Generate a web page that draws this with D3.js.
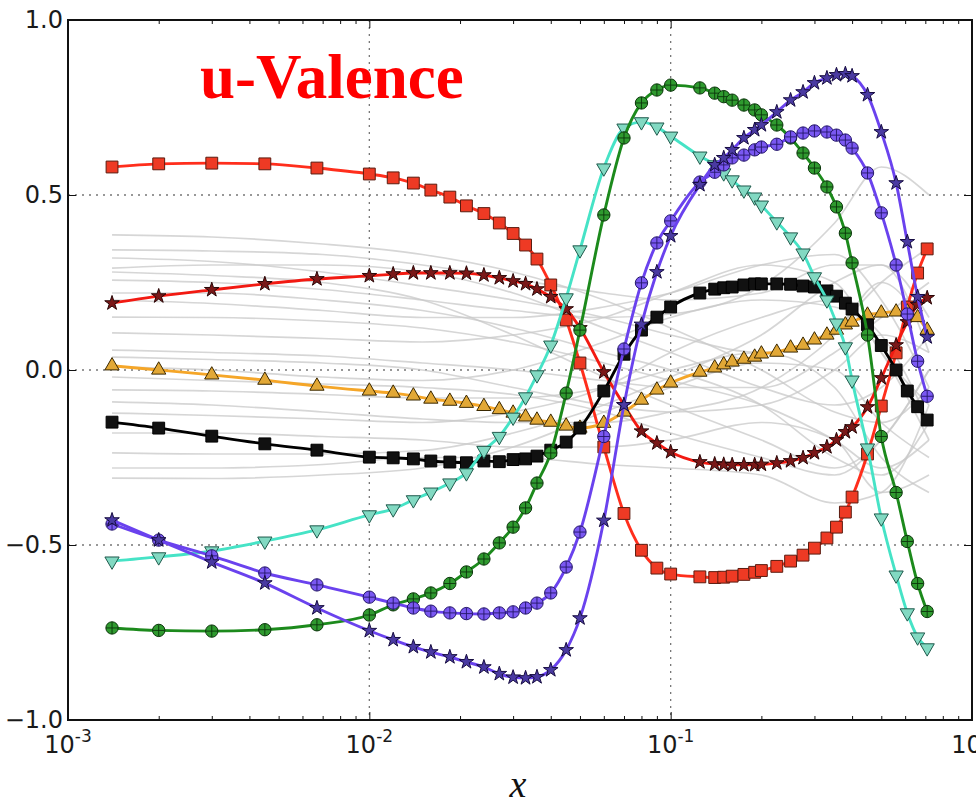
<!DOCTYPE html>
<html>
<head>
<meta charset="utf-8">
<script src="https://cdnjs.cloudflare.com/ajax/libs/d3/7.8.5/d3.min.js"></script>
<style>
body { margin: 0; background: #fff; }
svg { display: block; }
</style>
</head>
<body>
<svg id="chart"></svg>
<script>
// x grid of the plotted points (shared by all highlighted curves)
var xs = [0.0014, 0.002, 0.003, 0.0045, 0.0067, 0.01, 0.012, 0.014, 0.016, 0.0185,
    0.021, 0.024, 0.027, 0.03, 0.033, 0.036, 0.04, 0.045, 0.05, 0.06,
    0.07, 0.08, 0.09, 0.1, 0.125, 0.14, 0.15, 0.16, 0.175, 0.19,
    0.2, 0.225, 0.25, 0.275, 0.3, 0.33, 0.355, 0.38, 0.4, 0.45,
    0.5, 0.56, 0.61, 0.66, 0.71];

var redSquares = [0.580, 0.589, 0.591, 0.589, 0.577, 0.560, 0.549, 0.534, 0.514, 0.494,
    0.469, 0.447, 0.420, 0.390, 0.357, 0.317, 0.243, 0.143, 0.020, -0.220,
    -0.410, -0.515, -0.566, -0.583, -0.591, -0.593, -0.592, -0.589, -0.584, -0.578,
    -0.573, -0.561, -0.546, -0.529, -0.509, -0.480, -0.449, -0.406, -0.363, -0.240,
    -0.103, 0.049, 0.180, 0.277, 0.346];

var redStars = [0.191, 0.211, 0.229, 0.246, 0.260, 0.269, 0.274, 0.277, 0.277, 0.277,
    0.276, 0.271, 0.263, 0.254, 0.246, 0.231, 0.209, 0.174, 0.120, -0.006,
    -0.100, -0.175, -0.209, -0.234, -0.263, -0.269, -0.270, -0.271, -0.271, -0.271,
    -0.270, -0.266, -0.260, -0.251, -0.237, -0.220, -0.200, -0.177, -0.163, -0.106,
    -0.023, 0.071, 0.137, 0.186, 0.206];

var orangeTri = [0.012, 0.000, -0.014, -0.029, -0.046, -0.060, -0.066, -0.074, -0.083, -0.089,
    -0.095, -0.104, -0.113, -0.123, -0.134, -0.143, -0.149, -0.160, -0.166, -0.152,
    -0.120, -0.086, -0.057, -0.037, -0.006, 0.006, 0.015, 0.023, 0.031, 0.037,
    0.046, 0.051, 0.063, 0.071, 0.086, 0.100, 0.114, 0.129, 0.137, 0.157,
    0.163, 0.166, 0.166, 0.150, 0.114];

var blackSquares = [-0.149, -0.166, -0.189, -0.211, -0.229, -0.249, -0.251, -0.254, -0.260, -0.263,
    -0.265, -0.260, -0.262, -0.256, -0.254, -0.246, -0.229, -0.206, -0.166, -0.060,
    0.045, 0.114, 0.151, 0.180, 0.220, 0.231, 0.235, 0.237, 0.243, 0.246,
    0.246, 0.246, 0.245, 0.240, 0.237, 0.226, 0.211, 0.191, 0.174, 0.129,
    0.070, 0.000, -0.060, -0.105, -0.143];

var tealTri = [-0.546, -0.534, -0.517, -0.489, -0.457, -0.414, -0.397, -0.371, -0.349, -0.323,
    -0.294, -0.230, -0.190, -0.135, -0.077, -0.014, 0.071, 0.206, 0.343, 0.577,
    0.691, 0.709, 0.694, 0.668, 0.611, 0.586, 0.563, 0.543, 0.514, 0.494,
    0.471, 0.423, 0.380, 0.334, 0.266, 0.200, 0.134, 0.066, -0.029, -0.223,
    -0.423, -0.586, -0.694, -0.763, -0.794];

var greenCircles = [-0.737, -0.744, -0.746, -0.742, -0.728, -0.700, -0.671, -0.654, -0.637, -0.610,
    -0.577, -0.540, -0.494, -0.449, -0.394, -0.323, -0.237, -0.066, 0.114, 0.443,
    0.663, 0.763, 0.800, 0.814, 0.806, 0.791, 0.781, 0.771, 0.757, 0.743,
    0.729, 0.700, 0.663, 0.620, 0.577, 0.523, 0.466, 0.391, 0.306, 0.100,
    -0.190, -0.350, -0.490, -0.610, -0.690];

var violetCircles = [-0.440, -0.486, -0.531, -0.580, -0.614, -0.649, -0.666, -0.680, -0.689, -0.694,
    -0.696, -0.697, -0.694, -0.691, -0.680, -0.666, -0.637, -0.563, -0.463, -0.190,
    0.060, 0.249, 0.363, 0.426, 0.537, 0.565, 0.586, 0.606, 0.614, 0.629,
    0.637, 0.645, 0.666, 0.677, 0.683, 0.680, 0.671, 0.657, 0.634, 0.563,
    0.449, 0.300, 0.160, 0.025, -0.075];

var violetStars = [-0.429, -0.486, -0.549, -0.609, -0.680, -0.745, -0.771, -0.791, -0.806, -0.820,
    -0.834, -0.849, -0.868, -0.878, -0.880, -0.877, -0.857, -0.800, -0.709, -0.430,
    -0.100, 0.130, 0.280, 0.383, 0.529, 0.586, 0.606, 0.629, 0.663, 0.686,
    0.700, 0.737, 0.771, 0.794, 0.820, 0.834, 0.843, 0.846, 0.840, 0.786,
    0.680, 0.534, 0.366, 0.209, 0.094];

// faint grey replicas, values at a few x knots
var greyX = [0.0014, 0.003, 0.007, 0.015, 0.03, 0.06, 0.1, 0.2, 0.35, 0.5, 0.72];
var greyRuns = [
    [0.386, 0.380, 0.360, 0.330, 0.280, 0.200, 0.120, 0.000, -0.120, -0.150, -0.050],
    [0.343, 0.340, 0.330, 0.300, 0.260, 0.220, 0.200, 0.220, 0.300, 0.300, 0.150],
    [0.291, 0.300, 0.300, 0.280, 0.220, 0.120, 0.050, -0.050, -0.100, -0.050, 0.100],
    [0.257, 0.250, 0.230, 0.200, 0.170, 0.150, 0.160, 0.240, 0.420, 0.580, 0.500],
    [0.200, 0.190, 0.170, 0.150, 0.150, 0.180, 0.220, 0.300, 0.330, 0.200, -0.050],
    [0.151, 0.150, 0.140, 0.120, 0.080, 0.020, -0.030, -0.100, -0.200, -0.280, -0.200],
    [0.106, 0.100, 0.090, 0.080, 0.100, 0.150, 0.220, 0.300, 0.250, 0.050, -0.100],
    [0.057, 0.050, 0.040, 0.020, 0.000, -0.030, -0.050, -0.050, 0.050, 0.150, 0.250],
    [0.037, 0.030, 0.020, 0.000, -0.050, -0.100, -0.120, -0.100, 0.000, 0.100, 0.050],
    [0.009, 0.000, -0.020, -0.030, 0.000, 0.080, 0.150, 0.200, 0.180, 0.100, -0.150],
    [-0.057, -0.060, -0.070, -0.080, -0.080, -0.050, 0.000, 0.050, -0.050, -0.250, -0.350],
    [-0.091, -0.100, -0.120, -0.140, -0.150, -0.150, -0.120, -0.050, 0.100, 0.250, 0.100],
    [-0.123, -0.130, -0.140, -0.150, -0.120, -0.050, 0.050, 0.150, 0.200, 0.050, -0.200],
    [-0.180, -0.180, -0.190, -0.200, -0.220, -0.220, -0.200, -0.150, -0.200, -0.350, -0.300],
    [-0.237, -0.240, -0.240, -0.230, -0.180, -0.100, -0.020, 0.100, 0.250, 0.300, 0.050],
    [-0.280, -0.280, -0.270, -0.250, -0.250, -0.270, -0.280, -0.300, -0.380, -0.350, -0.100],
    [-0.309, -0.310, -0.300, -0.280, -0.220, -0.120, -0.050, 0.020, 0.000, -0.150, -0.250],
    [0.320, 0.310, 0.280, 0.240, 0.200, 0.150, 0.100, 0.050, 0.120, 0.250, 0.350],
    [0.220, 0.220, 0.200, 0.170, 0.120, 0.050, 0.000, -0.100, -0.250, -0.300, -0.150],
    [-0.020, -0.030, -0.040, -0.050, -0.070, -0.120, -0.180, -0.250, -0.300, -0.200, 0.000],
    [0.280, 0.270, 0.250, 0.200, 0.100, -0.020, -0.100, -0.200, -0.280, -0.200, 0.000]
];

// axis ticks
var xMajor = [0.001, 0.01, 0.1, 1];
var xExp = ['-3', '-2', '-1', '0'];
var yMajor = [-1, -0.5, 0, 0.5, 1];
var xGrid = [0.01, 0.1];
var yGrid = [-0.5, 0, 0.5];

var W = 976, H = 806;
var pL = 68, pR = 972, pT = 20, pB = 720;

var svg = d3.select('#chart').attr('width', W).attr('height', H);

var xScale = d3.scaleLog().domain([1e-3, 1]).range([pL, pR]);
var yScale = d3.scaleLinear().domain([-1, 1]).range([pB, pT]);

svg.append('clipPath').attr('id', 'plotclip')
    .append('rect').attr('x', pL).attr('y', pT)
    .attr('width', pR - pL).attr('height', pB - pT);

// dotted grid
svg.selectAll('line.gx').data(xGrid).join('line').attr('class', 'gx')
    .attr('x1', d => xScale(d)).attr('x2', d => xScale(d))
    .attr('y1', pT).attr('y2', pB)
    .attr('stroke', '#777').attr('stroke-width', 1.3).attr('stroke-dasharray', '2,5');
svg.selectAll('line.gy').data(yGrid).join('line').attr('class', 'gy')
    .attr('x1', pL).attr('x2', pR)
    .attr('y1', d => yScale(d)).attr('y2', d => yScale(d))
    .attr('stroke', '#777').attr('stroke-width', 1.3).attr('stroke-dasharray', '2,5');

var plot = svg.append('g').attr('clip-path', 'url(#plotclip)');

var curveLine = d3.line()
    .x(d => xScale(d[0])).y(d => yScale(d[1]))
    .curve(d3.curveMonotoneX);

// grey replicas
plot.selectAll('path.grey').data(greyRuns).join('path').attr('class', 'grey')
    .attr('d', r => curveLine(r.map((v, i) => [greyX[i], v])))
    .attr('fill', 'none').attr('stroke', '#c8c8c8').attr('stroke-width', 1.7)
    .attr('stroke-opacity', 0.75);

// highlighted curves
var series = [
    { y: redSquares, line: '#ff2e1c', fill: '#ee3a24', edge: '#5a1c10', shape: 'square' },
    { y: redStars, line: '#f21a12', fill: '#7a1818', edge: '#2a0606', shape: 'star' },
    { y: orangeTri, line: '#f5a628', fill: '#e2a836', edge: '#3a2800', shape: 'up' },
    { y: blackSquares, line: '#000000', fill: '#111111', edge: '#000000', shape: 'square' },
    { y: tealTri, line: '#46e3c6', fill: '#82d9c2', edge: '#1f5a4c', shape: 'down' },
    { y: greenCircles, line: '#1c8a1c', fill: '#2f9a2f', edge: '#0b360b', shape: 'circle' },
    { y: violetCircles, line: '#6a42ee', fill: '#7a58f2', edge: '#24166a', shape: 'circle' },
    { y: violetStars, line: '#6a42ee', fill: '#4a3aa2', edge: '#160c40', shape: 'star' }
];

var symbols = {
    square: d3.symbol().type(d3.symbolSquare).size(140)(),
    star: d3.symbol().type(d3.symbolStar).size(66)(),
    up: d3.symbol().type(d3.symbolTriangle).size(88)(),
    down: d3.symbol().type(d3.symbolTriangle).size(88)(),
    circle: d3.symbol().type(d3.symbolCircle).size(120)()
};

series.forEach(function(s) {
    var pts = xs.map((x, i) => [x, s.y[i]]);
    var g = plot.append('g');
    g.append('path').attr('d', curveLine(pts))
        .attr('fill', 'none').attr('stroke', s.line).attr('stroke-width', 2.9);
    var m = g.selectAll('g.m').data(pts).join('g').attr('class', 'm')
        .attr('transform', d => 'translate(' + xScale(d[0]) + ',' + yScale(d[1]) + ')' + (s.shape == 'down' ? ' rotate(180)' : ''));
    m.append('path').attr('d', symbols[s.shape])
        .attr('fill', s.fill).attr('stroke', s.edge).attr('stroke-width', 1);
    if (s.shape == 'circle') {
        m.append('path').attr('d', 'M-6,0H6M0,-6V6')
            .attr('stroke', s.edge).attr('stroke-width', 0.9);
    }
});

// axes: major + minor ticks pointing inward on all four sides
var minorX = xScale.ticks().filter(v => xMajor.indexOf(v) < 0);

svg.append('g').attr('transform', 'translate(0,' + pB + ')')
    .call(d3.axisBottom(xScale).tickValues(xMajor).tickSizeInner(-8).tickSizeOuter(0).tickFormat(''));
svg.append('g').attr('transform', 'translate(0,' + pB + ')')
    .call(d3.axisBottom(xScale).tickValues(minorX).tickSizeInner(-4).tickSizeOuter(0).tickFormat(''));
svg.append('g').attr('transform', 'translate(0,' + pT + ')')
    .call(d3.axisTop(xScale).tickValues(xMajor).tickSizeInner(-8).tickSizeOuter(0).tickFormat(''));
svg.append('g').attr('transform', 'translate(0,' + pT + ')')
    .call(d3.axisTop(xScale).tickValues(minorX).tickSizeInner(-4).tickSizeOuter(0).tickFormat(''));

var yLeft = svg.append('g').attr('transform', 'translate(' + pL + ',0)')
    .call(d3.axisLeft(yScale).tickValues(yMajor).tickSizeInner(-8).tickSizeOuter(0)
        .tickPadding(5).tickFormat(d3.format('.1f')));
yLeft.selectAll('text').attr('font-family', 'DejaVu Sans').attr('font-size', 24).attr('fill', '#1a1a1a');
svg.append('g').attr('transform', 'translate(' + pR + ',0)')
    .call(d3.axisRight(yScale).tickValues(yMajor).tickSizeInner(-8).tickSizeOuter(0).tickFormat(''));

svg.selectAll('.domain').attr('stroke', 'none');
svg.selectAll('.tick line').attr('stroke', '#111').attr('stroke-width', 1);

// frame
svg.append('rect').attr('x', pL).attr('y', pT)
    .attr('width', pR - pL).attr('height', pB - pT)
    .attr('fill', 'none').attr('stroke', '#111').attr('stroke-width', 2);

// x tick labels 10^n
var xl = svg.selectAll('text.xl').data(xMajor).join('text').attr('class', 'xl')
    .attr('x', d => xScale(d)).attr('y', 753)
    .attr('text-anchor', 'middle')
    .attr('font-family', 'DejaVu Sans').attr('fill', '#1a1a1a');
xl.append('tspan').attr('font-size', 24).text('10');
xl.append('tspan').attr('font-size', 17).attr('dy', -11).text((d, i) => xExp[i]);

// axis title
svg.append('text').attr('x', 518).attr('y', 797).attr('text-anchor', 'middle')
    .attr('font-family', 'Liberation Serif').attr('font-style', 'italic')
    .attr('font-size', 38).attr('fill', '#111').text('x');

// chart title
svg.append('text').attr('x', 200).attr('y', 98)
    .attr('font-family', 'Liberation Serif').attr('font-weight', 'bold')
    .attr('font-size', 63).attr('fill', '#ff0000').text('u-Valence');
</script>
</body>
</html>
